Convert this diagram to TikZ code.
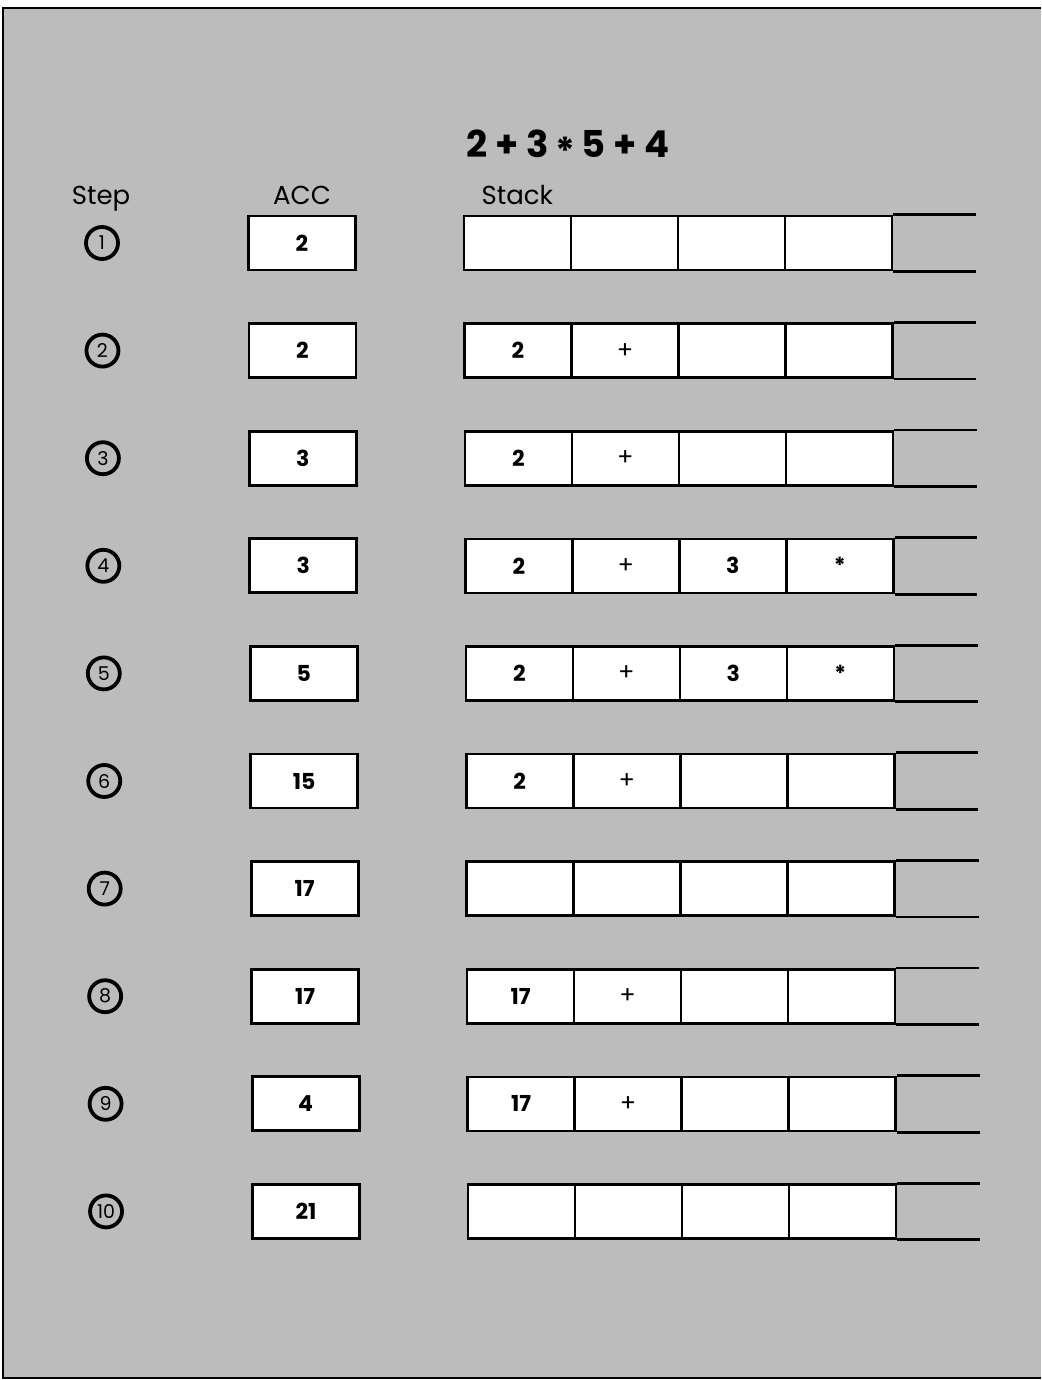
\documentclass[tikz,border=0pt]{standalone}
\usepackage{fontspec}
\setmainfont{Poppins}
\definecolor{bggray}{RGB}{188,188,188}
\newcommand{\opplus}{{\mdseries\fontsize{24}{24}\selectfont +}}
\newcommand{\opstar}{\raisebox{-0.3em}{*}}
\newcommand{\titlestar}{\raisebox{-0.18em}{*}}
\begin{document}
\begin{tikzpicture}[x=1pt,y=-1pt,
  accbox/.style={draw, line width=2.8pt, fill=white, minimum width=107pt, minimum height=54pt, inner sep=0pt, font=\fontsize{22}{26}\selectfont\bfseries},
  cell/.style={draw, line width=2.6pt, fill=white, minimum width=107pt, minimum height=54pt, inner sep=0pt, font=\fontsize{22}{26}\selectfont\bfseries},
  stepnum/.style={circle, draw, line width=3.8pt, minimum size=32pt, inner sep=0pt, font=\fontsize{19}{19}\selectfont},
  hdr/.style={font=\fontsize{26}{30}\selectfont, anchor=base},
  extline/.style={line width=2.8pt}
]
\useasboundingbox (0,0) rectangle (1041,1380);
\fill[white] (0,0) rectangle (1041,1380);
\fill[bggray] (3,8) rectangle (1041,1378);
\draw[line width=2pt] (1041,8) -- (3,8) -- (3,1378) -- (1041,1378);

\node[font=\fontsize{37}{42}\selectfont\bfseries, anchor=base] (title) at (568,158) {2 + 3\,\titlestar\,5 + 4};
\node[hdr] (hstep) at (101,205) {Step};
\node[hdr] (hacc) at (302,205) {ACC};
\node[hdr, anchor=base west] (hstack) at (478,205) {Stack};

\foreach \i/\acc/\a/\b/\c/\d [evaluate=\i as \yy using 243+(\i-1)*107.6,
                             evaluate=\i as \dx using (\i-1)*0.45] in
  {1/2/{}/{}/{}/{}, 2/2/2/\opplus/{}/{}, 3/3/2/\opplus/{}/{}, 4/3/2/\opplus/3/\opstar, 5/5/2/\opplus/3/\opstar,
   6/15/2/\opplus/{}/{}, 7/17/{}/{}/{}/{}, 8/17/17/\opplus/{}/{}, 9/4/17/\opplus/{}/{}, 10/21/{}/{}/{}/{}}
{
  \node[stepnum] (step-\i) at (102+\dx,\yy) {\i};
  \node[accbox] (acc-\i) at (302+\dx,\yy) {\acc};
  \node[cell] (st-\i-1) at (517.5+\dx,\yy) {\a};
  \node[cell] (st-\i-2) at (624.5+\dx,\yy) {\b};
  \node[cell] (st-\i-3) at (731.5+\dx,\yy) {\c};
  \node[cell] (st-\i-4) at (838.5+\dx,\yy) {\d};
  \coordinate (end-\i) at (976+\dx,\yy);
  \draw[extline] (st-\i-4.north east) -- (st-\i-4.north east -| end-\i);
  \draw[extline] (st-\i-4.south east) -- (st-\i-4.south east -| end-\i);
}
\end{tikzpicture}
\end{document}
